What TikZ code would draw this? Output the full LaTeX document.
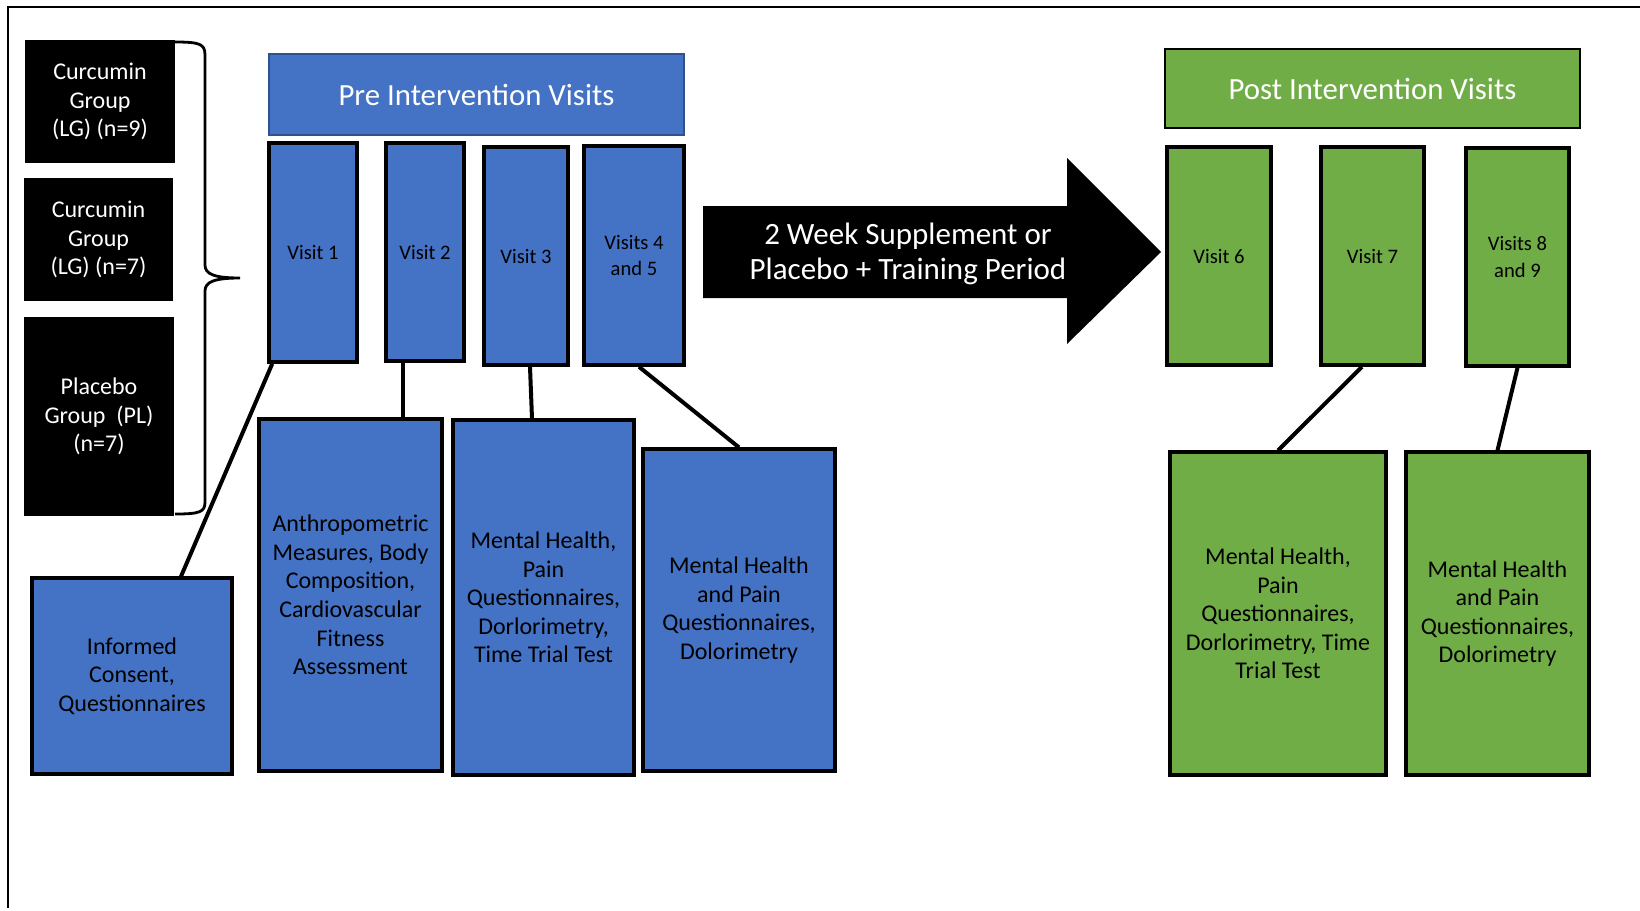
\documentclass[tikz,border=0pt]{standalone}
\usepackage{fontspec}
\setmainfont{Carlito}
\usepackage{tikz}
\usetikzlibrary{calc,positioning}
\definecolor{preblue}{HTML}{4472C4}
\definecolor{preedge}{HTML}{2F528F}
\definecolor{postgreen}{HTML}{70AD47}
\tikzset{
	grp/.style = {rectangle, fill=black, text=white, align=center,
     inner sep=1pt, font=\fontsize{12}{14.4}\selectfont},
	header/.style = {rectangle, draw, line width=0.6pt, text=white,
     inner sep=1pt, font=\fontsize{15.4}{18}\selectfont},
	visit/.style = {rectangle, draw=black, line width=1.8pt, align=center,
     inner sep=1pt, font=\fontsize{10.3}{13.2}\selectfont},
	task/.style = {rectangle, draw=black, line width=1.6pt, align=center,
     inner sep=1pt, font=\fontsize{12}{14.3}\selectfont},
	link/.style = {line width=2pt},
}

\begin{document}
\begin{tikzpicture}[x=0.5pt,y=-0.5pt]
    \useasboundingbox (0,0) rectangle (1640,911);
    \draw[line width=0.75pt] (1640,7) -- (8,7) -- (8,908);
    % groups
    \node[grp, minimum width=75pt, minimum height=61.5pt] (g1) at (100,101.5)
    {Curcumin\\ Group\\ (LG) (n=9)};
    \node[grp, minimum width=74.5pt, minimum height=61.5pt] (g2) at (98.5,239.5)
    {Curcumin\\ Group\\ (LG) (n=7)};
    \node[grp, minimum width=75pt, minimum height=99.5pt] (g3) at (99,416.5)
    {Placebo\\ Group\ \ (PL)\\ (n=7)};
    \draw[line width=1.4pt] (175,42) .. controls (200,42) and (205,44) .. (205,55)
      -- (205,265) .. controls (205,274) and (214,278) .. (240,278)
      .. controls (214,278) and (205,282) .. (205,291)
      -- (205,502) .. controls (205,512) and (200,514) .. (175,514);
    % pre intervention
    \node[header, draw=preedge, fill=preblue, minimum width=207.5pt,
      minimum height=40.5pt] (pre) at (476.5,94.5) {Pre Intervention Visits};
    \node[visit, fill=preblue, minimum width=44pt, minimum height=109.5pt]
      (v1) at (313,252.5) {Visit 1};
    \node[visit, fill=preblue, minimum width=39pt, minimum height=109pt]
      (v2) at (425,252) {Visit 2};
    \node[visit, fill=preblue, minimum width=42pt, minimum height=109pt]
      (v3) at (526,256) {Visit 3};
    \node[visit, fill=preblue, minimum width=50pt, minimum height=109.5pt]
      (v45) at (634,255.5) {Visits 4\\ and 5};
    \node[task, fill=preblue, minimum width=100pt, minimum height=98pt]
      (b1) at (132,676) {Informed\\ Consent,\\ Questionnaires};
    \node[task, fill=preblue, minimum width=91.5pt, minimum height=176pt]
      (b2) at (350.5,595) {Anthropometric\\ Measures, Body\\ Composition,\\
      Cardiovascular\\ Fitness\\ Assessment};
    \node[task, fill=preblue, minimum width=90.5pt, minimum height=177.5pt]
      (b3) at (543.5,597.5) {Mental Health,\\ Pain\\ Questionnaires,\\
      Dorlorimetry,\\ Time Trial Test};
    \node[task, fill=preblue, minimum width=96pt, minimum height=161pt]
      (b4) at (739,610) {Mental Health\\ and Pain\\ Questionnaires,\\ Dolorimetry};
    \draw[link] ([xshift=2.5pt]v1.south west) -- ([xshift=24.5pt]b1.north);
    \draw[link] ([xshift=-11pt]v2.south) -- ([xshift=-11pt]v2.south |- b2.north);
    \draw[link] ([xshift=2pt]v3.south) -- ([xshift=-5.75pt]b3.north);
    \draw[link] ([xshift=2.5pt]v45.south) -- (b4.north);
    % intervention period
    \fill (703,206) -- (1067,206) -- (1067,158) -- (1161,252) -- (1067,344)
      -- (1067,298) -- (703,298) -- cycle;
    \node[text=white, align=center, font=\fontsize{15.5}{17.8}\selectfont]
      (period) at (908,254) {2 Week Supplement or\\ Placebo + Training Period};
    % post intervention
    \node[header, draw=black, fill=postgreen, minimum width=207.5pt,
      minimum height=39.5pt] (post) at (1372.5,88.5) {Post Intervention Visits};
    \node[visit, fill=postgreen, minimum width=52pt, minimum height=109pt]
      (v6) at (1219,256) {Visit 6};
    \node[visit, fill=postgreen, minimum width=51.5pt, minimum height=109pt]
      (v7) at (1372.5,256) {Visit 7};
    \node[visit, fill=postgreen, minimum width=51.5pt, minimum height=109pt]
      (v89) at (1517.5,257) {Visits 8\\ and 9};
    \node[task, fill=postgreen, minimum width=108pt, minimum height=161.5pt]
      (p1) at (1278,613.5) {Mental Health,\\ Pain\\ Questionnaires,\\
      Dorlorimetry, Time\\ Trial Test};
    \node[task, fill=postgreen, minimum width=91.5pt, minimum height=161.5pt]
      (p2) at (1497.5,613.5) {Mental Health\\ and Pain\\ Questionnaires,\\ Dolorimetry};
    \draw[link] ([xshift=-5.25pt]v7.south) -- (p1.north);
    \draw[link] (v89.south) -- (p2.north);
\end{tikzpicture}
\end{document}
